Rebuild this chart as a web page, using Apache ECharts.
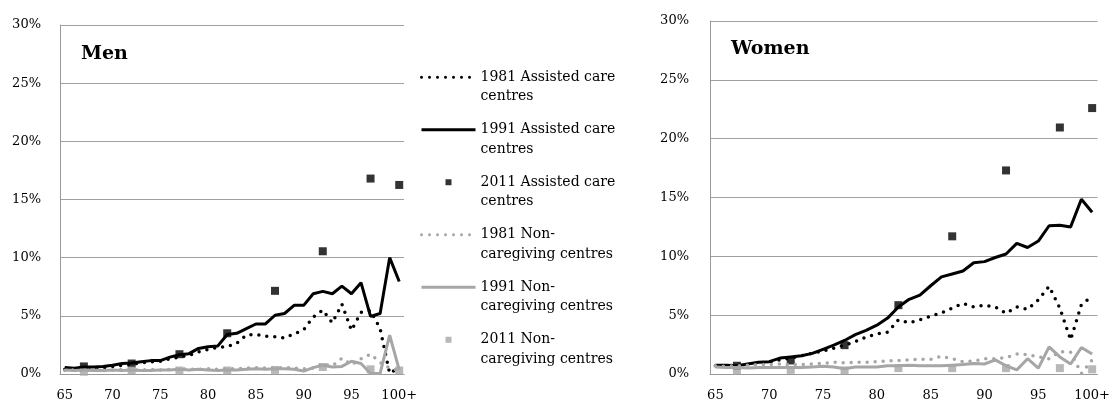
<!DOCTYPE html>
<html>
<head>
<meta charset="utf-8">
<script src="https://cdn.jsdelivr.net/npm/echarts@6/dist/echarts.min.js"></script>
<style>
  html, body { margin: 0; padding: 0; background: #fff; }
  #chart { width: 1113px; height: 403px; }
</style>
</head>
<body>
<div id="chart"></div>
<script>
// ages 65 .. 100+
const ages = []
for (let a = 65; a < 100; a++) ages.push(String(a))
ages.push('100+')

const ages2011 = ['67', '72', '77', '82', '87', '92', '97', '100+']

const seriesNames = [
  '1981 Assisted care centres',
  '1991 Assisted care centres',
  '2011 Assisted care centres',
  '1981 Non-caregiving centres',
  '1991 Non-caregiving centres',
  '2011 Non-caregiving centres'
]
const legendLabels = {
  '1981 Assisted care centres': '1981 Assisted care\ncentres',
  '1991 Assisted care centres': '1991 Assisted care\ncentres',
  '2011 Assisted care centres': '2011 Assisted care\ncentres',
  '1981 Non-caregiving centres': '1981 Non-\ncaregiving centres',
  '1991 Non-caregiving centres': '1991 Non-\ncaregiving centres',
  '2011 Non-caregiving centres': '2011 Non-\ncaregiving centres'
}

// Men (%)
const menAssisted1981 = [0.4, 0.45, 0.5, 0.5, 0.55, 0.65, 0.75, 0.85, 0.95, 1.05, 1.1, 1.3, 1.45, 1.6, 1.9, 2.1, 2.3, 2.35, 2.65, 3.35, 3.4, 3.25, 3.2, 3.1, 3.45, 3.8, 4.9, 5.5, 4.4, 6.0, 3.75, 5.3, 5.45, 3.9, 0.05, 0.55]
const menAssisted1991 = [0.55, 0.5, 0.6, 0.6, 0.65, 0.75, 0.9, 0.95, 1.05, 1.15, 1.15, 1.45, 1.65, 1.75, 2.2, 2.35, 2.4, 3.4, 3.5, 3.9, 4.3, 4.3, 5.05, 5.2, 5.9, 5.9, 6.9, 7.1, 6.9, 7.55, 6.9, 7.85, 4.95, 5.2, 10.0, 7.95]
const menAssisted2011 = [0.65, 0.9, 1.7, 3.5, 7.15, 10.55, 16.8, 16.25]
const menNon1981 = [0.3, 0.35, 0.3, 0.35, 0.3, 0.35, 0.4, 0.35, 0.35, 0.4, 0.35, 0.4, 0.45, 0.4, 0.4, 0.45, 0.4, 0.45, 0.45, 0.5, 0.55, 0.5, 0.5, 0.55, 0.5, 0.45, 0.5, 0.85, 0.7, 1.35, 0.8, 1.3, 1.7, 1.0, 0.5, 0.3]
const menNon1991 = [0.35, 0.3, 0.35, 0.3, 0.3, 0.35, 0.3, 0.35, 0.3, 0.3, 0.35, 0.35, 0.4, 0.35, 0.4, 0.35, 0.3, 0.35, 0.35, 0.4, 0.45, 0.4, 0.45, 0.45, 0.4, 0.25, 0.55, 0.75, 0.6, 0.65, 1.1, 0.9, 0.05, 0.05, 3.35, 0.35]
const menNon2011 = [0.2, 0.3, 0.3, 0.3, 0.35, 0.6, 0.4, 0.3]

// Women (%)
const womenAssisted1981 = [0.7, 0.7, 0.75, 0.8, 0.9, 1.0, 1.2, 1.35, 1.55, 1.75, 1.95, 2.2, 2.45, 2.75, 3.15, 3.4, 3.55, 4.6, 4.35, 4.6, 4.9, 5.2, 5.6, 6.0, 5.7, 5.85, 5.7, 5.15, 5.7, 5.5, 6.3, 7.45, 5.6, 2.9, 5.9, 6.6]
const womenAssisted1991 = [0.75, 0.75, 0.7, 0.85, 1.0, 1.05, 1.35, 1.45, 1.55, 1.75, 2.1, 2.45, 2.85, 3.35, 3.7, 4.15, 4.75, 5.7, 6.35, 6.7, 7.5, 8.25, 8.5, 8.75, 9.45, 9.55, 9.9, 10.2, 11.1, 10.75, 11.3, 12.6, 12.65, 12.5, 14.85, 13.75]
const womenAssisted2011 = [0.7, 1.15, 2.45, 5.85, 11.7, 17.3, 20.95, 22.6]
const womenNon1981 = [0.7, 0.65, 0.7, 0.75, 0.8, 0.8, 0.85, 0.8, 0.8, 0.85, 0.9, 1.0, 0.95, 1.0, 1.0, 1.05, 1.1, 1.15, 1.2, 1.25, 1.25, 1.5, 1.3, 1.05, 1.1, 1.3, 1.3, 1.4, 1.7, 1.65, 1.45, 1.3, 1.9, 1.85, 0.05, 1.2]
const womenNon1991 = [0.6, 0.55, 0.55, 0.5, 0.55, 0.55, 0.55, 0.55, 0.55, 0.6, 0.65, 0.6, 0.45, 0.6, 0.6, 0.6, 0.7, 0.7, 0.75, 0.7, 0.7, 0.7, 0.75, 0.8, 0.9, 0.85, 1.2, 0.7, 0.35, 1.3, 0.5, 2.3, 1.45, 0.85, 2.25, 1.7]
const womenNon2011 = [0.3, 0.35, 0.3, 0.5, 0.5, 0.5, 0.5, 0.4]

const BLACK = '#000000'
const GREY = '#a6a6a6'
const FONT = 'DejaVu Serif'

function dotted(name, data, color, idx) {
  return {
    name: name, type: 'line', data: data, xAxisIndex: idx, yAxisIndex: idx,
    symbol: 'none', silent: true,
    itemStyle: { color: color },
    lineStyle: { color: color, width: 3.5, type: [0, 8], cap: 'round' }
  }
}
function solid(name, data, color, idx) {
  return {
    name: name, type: 'line', data: data, xAxisIndex: idx, yAxisIndex: idx,
    symbol: 'none', silent: true,
    itemStyle: { color: color },
    lineStyle: { color: color, width: 3 }
  }
}
function squares(name, values, color, idx) {
  return {
    name: name, type: 'scatter', xAxisIndex: idx, yAxisIndex: idx,
    data: ages2011.map((a, i) => [a, values[i]]),
    symbol: 'rect', symbolSize: 8, silent: true,
    itemStyle: { color: color }
  }
}

function xAxis(idx) {
  return {
    type: 'category', data: ages, gridIndex: idx, boundaryGap: true,
    axisLine: { lineStyle: { color: '#999', width: 1 } },
    axisTick: { interval: 0, length: 4, lineStyle: { color: '#999' } },
    axisLabel: { interval: 4, margin: 15, color: '#000', fontFamily: FONT, fontSize: 13 }
  }
}
function yAxis(idx, margin) {
  return {
    type: 'value', gridIndex: idx, min: 0, max: 30, interval: 5,
    axisLine: { show: true, lineStyle: { color: '#999', width: 1 } },
    axisTick: { show: false },
    splitLine: { lineStyle: { color: '#a0a0a0', width: 1 } },
    axisLabel: { formatter: '{value}%', margin: margin, color: '#000', fontFamily: FONT, fontSize: 13 }
  }
}

// small square centred in the wide legend icon box
const squareIcon = 'path://M0,0M23.5,-0.5h7v7h-7zM54,6'
const legendData = seriesNames.map(n => {
  if (n.indexOf('2011') === 0) return { name: n, icon: squareIcon }
  return { name: n, itemStyle: { opacity: 0 } }
})

const chart = echarts.init(document.getElementById('chart'))
const option = {
  animation: false,
  title: [
    { text: 'Men', left: 81, top: 45, padding: 0, textStyle: { fontFamily: FONT, fontWeight: 'bold', fontSize: 19, color: '#000' } },
    { text: 'Women', left: 731, top: 40, padding: 0, textStyle: { fontFamily: FONT, fontWeight: 'bold', fontSize: 19, color: '#000' } }
  ],
  legend: {
    data: legendData,
    orient: 'vertical',
    left: 420, top: 48, padding: 0,
    itemWidth: 54, itemHeight: 6, itemGap: -6,
    selectedMode: false,
    formatter: name => '\n' + legendLabels[name],
    lineStyle: { width: 3 },
    textStyle: { fontFamily: FONT, fontSize: 14, color: '#000', lineHeight: 19.5 }
  },
  grid: [
    { left: 60, top: 25, width: 344, height: 349 },
    { left: 710, top: 21, width: 388, height: 353 }
  ],
  xAxis: [xAxis(0), xAxis(1)],
  yAxis: [yAxis(0, 19), yAxis(1, 21)],
  series: [
    dotted(seriesNames[0], menAssisted1981, BLACK, 0),
    solid(seriesNames[1], menAssisted1991, BLACK, 0),
    squares(seriesNames[2], menAssisted2011, BLACK, 0),
    dotted(seriesNames[3], menNon1981, GREY, 0),
    solid(seriesNames[4], menNon1991, GREY, 0),
    squares(seriesNames[5], menNon2011, GREY, 0),
    dotted(seriesNames[0], womenAssisted1981, BLACK, 1),
    solid(seriesNames[1], womenAssisted1991, BLACK, 1),
    squares(seriesNames[2], womenAssisted2011, BLACK, 1),
    dotted(seriesNames[3], womenNon1981, GREY, 1),
    solid(seriesNames[4], womenNon1991, GREY, 1),
    squares(seriesNames[5], womenNon2011, GREY, 1)
  ]
}
chart.setOption(option)
</script>
</body>
</html>
